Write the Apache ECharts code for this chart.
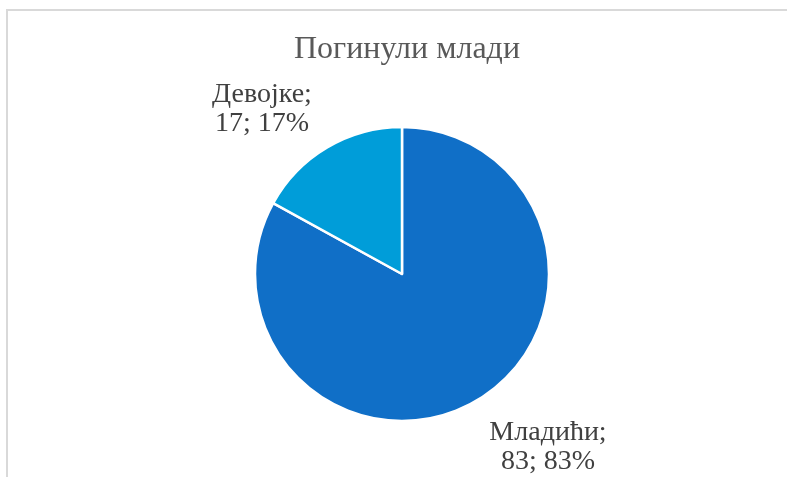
<!DOCTYPE html>
<html>
<head>
<meta charset="utf-8">
<script src="https://cdn.jsdelivr.net/npm/echarts@6/dist/echarts.min.js"></script>
<style>
html,body{margin:0;padding:0;background:#fff;}
#frame{position:absolute;left:6px;top:9px;width:800px;height:500px;border:2px solid #d9d9d9;box-sizing:border-box;}
#chart{position:absolute;left:0;top:0;width:787px;height:477px;}
</style>
</head>
<body>
<div id="frame"></div>
<div id="chart"></div>
<script>
const chartTitle = 'Погинули млади';
const categories = ['Младићи', 'Девојке'];
const values = [83, 17];
const percents = [83, 17];
const colors = ['#106FC7', '#009DD9'];

const chart = echarts.init(document.getElementById('chart'), null, {renderer: 'canvas'});
const labelPos = [[548, 447], [262, 109]];
chart.setOption({
  animation: false,
  backgroundColor: 'transparent',
  title: {
    text: chartTitle,
    left: 402,
    textAlign: 'center',
    top: 29,
    textStyle: {fontFamily: 'Liberation Serif', fontSize: 32, fontWeight: 'normal', color: '#595959'}
  },
  series: [{
    type: 'pie',
    center: [402, 274],
    radius: 147,
    startAngle: 90,
    clockwise: true,
    data: categories.map((c, i) => ({name: c, value: values[i], itemStyle: {color: colors[i]}})),
    itemStyle: {borderColor: '#fff', borderWidth: 2.5},
    label: {
      show: true,
      position: 'outside',
      formatter: p => p.name + ';\n' + p.value + '; ' + percents[p.dataIndex] + '%',
      fontFamily: 'Liberation Serif',
      fontSize: 28,
      lineHeight: 29,
      color: '#404040',
      align: 'center'
    },
    labelLine: {show: false},
    labelLayout: p => ({x: labelPos[p.dataIndex][0], y: labelPos[p.dataIndex][1], align: 'center', verticalAlign: 'middle'})
  }]
});
</script>
</body>
</html>
